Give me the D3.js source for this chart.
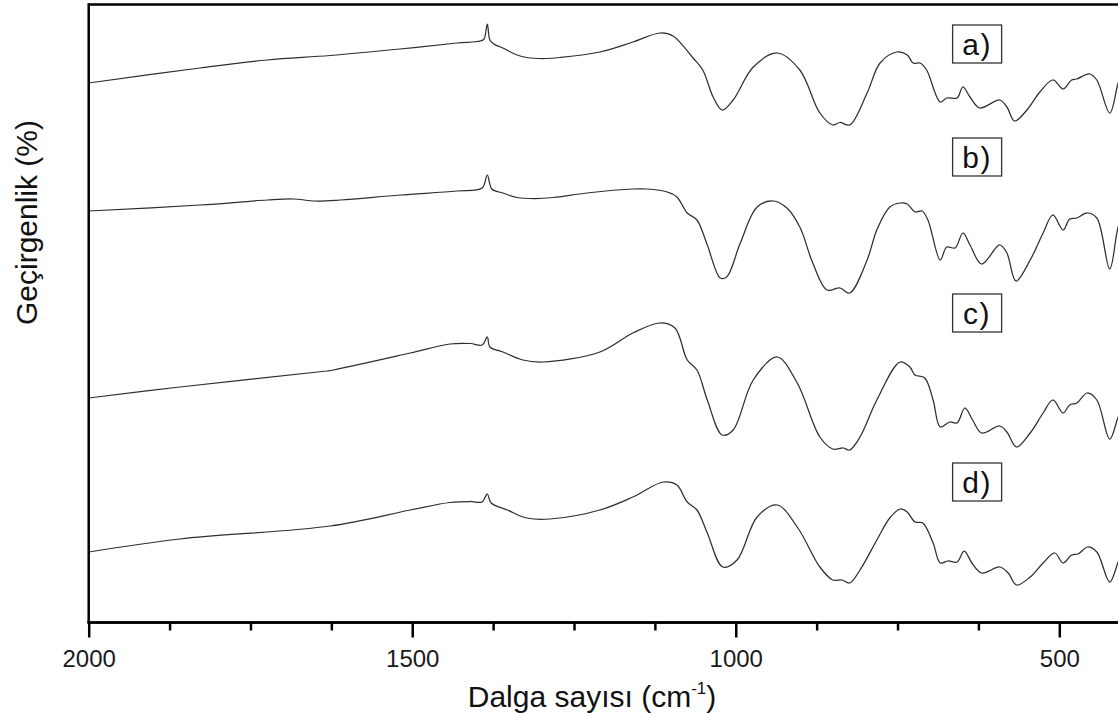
<!DOCTYPE html>
<html>
<head>
<meta charset="utf-8">
<script src="https://cdn.jsdelivr.net/npm/d3@7"></script>
<style>
  body { margin: 0; background: #fff; }
  svg { display: block; font-family: Arial, "Liberation Sans", sans-serif; }
</style>
</head>
<body>
<svg id="chart" width="1118" height="713"></svg>
<script>
// FTIR spectra, [wavenumber (cm-1), transmittance (a.u., stacked)]
const spectrumA = [
  [2000,107.2],[1828,110.2],[1724,111.8],[1627,112.7],[1519,114.0],[1431,115.2],
  [1395,115.6],[1389,116.0],[1384,119.0],[1380,115.8],[1374,115.0],[1360,114.2],
  [1338,112.8],[1323,112.3],[1295,112.1],[1272,112.3],[1210,113.4],[1159,115.4],[1117,117.2],
  [1097,116.6],[1066,112.2],[1051,109.8],[1035,104.4],[1021,101.8],[1004,103.8],
  [973,110.4],[936,113.2],[901,109.8],[870,101.2],[850,98.8],[839,99.3],[824,98.8],
  [797,105.2],[777,111.2],[751,113.4],[735,112.8],[726,111.2],[715,111.2],[705,109.8],
  [684,103.4],[674,104.2],[658,104.2],[649,106.4],[638,104.4],[623,102.2],[592,103.8],
  [581,102.4],[569,99.6],[550,101.8],[530,105.4],[510,107.8],[494,106.0],[481,107.8],
  [473,108.0],[453,109.0],[442,107.8],[422,101.2],[409,107.2],[400,110.2]
];
const spectrumB = [
  [2000,81.6],[1828,82.8],[1724,83.8],[1684,84.0],[1650,83.6],[1611,83.8],[1519,84.8],
  [1431,85.6],[1392,86.2],[1384,88.8],[1377,86.0],[1360,85.2],[1338,84.3],[1310,84.1],[1282,84.3],
  [1230,85.2],[1159,86.0],[1137,86.0],[1106,85.4],[1091,84.4],[1075,81.2],[1060,79.8],
  [1044,74.8],[1024,68.2],[1014,68.4],[993,75.2],[967,82.4],[942,83.6],[921,82.2],
  [901,78.4],[881,71.2],[859,65.8],[839,66.2],[824,65.2],[797,71.8],[782,77.8],
  [762,82.4],[746,83.2],[735,83.0],[723,81.4],[712,81.6],[703,79.8],[684,71.8],
  [674,74.4],[661,74.2],[649,77.2],[638,74.8],[620,71.0],[592,74.8],[581,73.2],
  [567,67.6],[545,71.8],[525,77.2],[510,80.8],[494,77.8],[484,80.0],[473,80.2],
  [457,81.2],[442,80.2],[422,70.0],[409,78.4],[400,81.0]
];
const spectrumC = [
  [2000,44.2],[1859,46.4],[1632,49.6],[1622,49.8],[1503,53.2],[1442,55.0],[1410,55.1],[1392,54.8],
  [1384,56.4],[1380,54.4],[1360,53.4],[1329,51.8],[1298,51.4],[1210,53.4],[1159,57.2],
  [1117,59.2],[1094,58.2],[1075,51.8],[1060,49.8],[1044,43.8],[1021,36.8],[1004,37.8],
  [973,47.8],[936,52.4],[905,47.2],[870,36.4],[850,34.0],[834,34.2],[824,33.8],
  [808,36.4],[782,43.8],[746,51.4],[731,50.4],[723,48.8],[708,48.2],[695,43.8],
  [684,38.4],[669,39.4],[658,39.2],[646,42.2],[634,39.8],[620,37.2],[592,38.6],
  [581,37.4],[566,34.4],[545,37.2],[525,41.2],[510,43.8],[494,41.2],[484,42.8],
  [473,43.2],[457,45.2],[442,43.8],[422,36.0],[409,40.4],[400,43.0]
];
const spectrumD = [
  [2000,13.4],[1859,16.0],[1627,18.6],[1503,21.8],[1442,23.3],[1410,23.5],[1392,23.4],[1384,25.0],
  [1378,23.2],[1353,21.8],[1323,20.2],[1287,20.0],[1210,21.8],[1159,24.4],[1112,27.4],
  [1091,26.8],[1075,23.4],[1060,21.8],[1044,17.2],[1020,10.4],[998,11.8],[967,20.4],
  [936,22.8],[904,18.2],[870,10.4],[850,7.8],[836,7.8],[824,7.2],[808,9.8],[782,15.8],
  [762,20.2],[746,22.0],[735,21.4],[723,19.4],[711,19.2],[695,15.2],[684,11.2],
  [672,11.6],[658,11.4],[647,13.6],[635,11.2],[620,9.2],[592,10.4],[579,9.2],
  [566,6.8],[545,8.4],[525,11.2],[507,13.2],[494,11.2],[481,12.8],[471,13.0],
  [456,14.4],[442,13.4],[422,7.4],[409,11.4],[400,14.0]
];

const seriesNames = ["a)", "b)", "c)", "d)"];
const seriesData = [spectrumA, spectrumB, spectrumC, spectrumD];
// label anchor for each spectrum: [wavenumber, transmittance]
const labelAnchors = [[627, 115.0], [627, 92.4], [627, 61.2], [627, 27.4]];

const majorTicks = [2000, 1500, 1000, 500];
const minorTicks = [1875, 1750, 1625, 1375, 1250, 1125, 875, 750, 625, 375];

const svg = d3.select("#chart");
const W = 1118, H = 713;
const plotLeft = 88.7, plotTop = 4.5, plotBottom = 622.5, plotRight = 1124;

const x = d3.scaleLinear().domain([2000, 400]).range([plotLeft, plotRight]);
const y = d3.scaleLinear().domain([0, 123]).range([619, 4]);

svg.append("defs").append("clipPath").attr("id", "plotClip")
  .append("rect").attr("x", plotLeft).attr("y", plotTop)
  .attr("width", plotRight - plotLeft).attr("height", plotBottom - plotTop);

// spectra
const line = d3.line()
  .x(d => x(d[0]))
  .y(d => y(d[1]))
  .curve(d3.curveCatmullRom.alpha(0.5));

svg.append("g").attr("clip-path", "url(#plotClip)")
  .selectAll("path.spec")
  .data(seriesData)
  .join("path")
  .attr("class", "spec")
  .attr("d", line)
  .attr("fill", "none")
  .attr("stroke", "#2e2e2e")
  .attr("stroke-width", 1.25)
  .attr("stroke-linejoin", "round");

// frame: left and top spines
svg.append("line").attr("x1", plotLeft).attr("x2", plotLeft).attr("y1", plotTop - 1.2).attr("y2", plotBottom)
  .attr("stroke", "#000").attr("stroke-width", 2.5);
svg.append("line").attr("x1", plotLeft).attr("x2", W).attr("y1", plotTop).attr("y2", plotTop)
  .attr("stroke", "#000").attr("stroke-width", 2.5);

// bottom axis
const axisMajor = d3.axisBottom(x).tickValues(majorTicks).tickSize(15).tickSizeOuter(0)
  .tickPadding(12).tickFormat(d3.format("d"));
const axisMinor = d3.axisBottom(x).tickValues(minorTicks).tickSize(8).tickSizeOuter(0)
  .tickFormat("");

const gMinor = svg.append("g").attr("transform", `translate(0,${plotBottom})`).call(axisMinor);
const gMajor = svg.append("g").attr("transform", `translate(0,${plotBottom})`).call(axisMajor);
[gMinor, gMajor].forEach(g => {
  g.select(".domain").attr("stroke", "#000").attr("stroke-width", 2.5)
    .attr("d", `M${plotLeft - 1.2},0H${W}`);
  g.selectAll(".tick line").attr("stroke", "#000").attr("stroke-width", 2.5);
});
gMajor.selectAll(".tick text")
  .attr("font-size", 24).attr("fill", "#1a1a1a").attr("font-family", "Arial, 'Liberation Sans', sans-serif");

// axis titles
const xTitle = svg.append("text")
  .attr("x", 592).attr("y", 707)
  .attr("text-anchor", "middle")
  .attr("font-size", 30).attr("fill", "#111");
xTitle.append("tspan").text("Dalga sayısı (cm");
xTitle.append("tspan").text("-1").attr("font-size", 17).attr("dy", -13);
xTitle.append("tspan").text(")").attr("dy", 13);

svg.append("text")
  .attr("transform", `translate(37,222.5) rotate(-90)`)
  .attr("text-anchor", "middle")
  .attr("font-size", 30).attr("fill", "#111")
  .text("Geçirgenlik (%)");

// series labels in boxes
const labels = svg.append("g").selectAll("g")
  .data(seriesNames.map((n, i) => ({ name: n, at: labelAnchors[i] })))
  .join("g")
  .attr("transform", d => `translate(${x(d.at[0])},${y(d.at[1])})`);
labels.append("rect")
  .attr("x", -24.5).attr("y", -19).attr("width", 49).attr("height", 38)
  .attr("fill", "#fff").attr("stroke", "#333").attr("stroke-width", 1.3);
labels.append("text")
  .attr("text-anchor", "middle").attr("dy", 11)
  .attr("font-size", 30).attr("letter-spacing", 1.5).attr("fill", "#111")
  .text(d => d.name);
</script>
</body>
</html>
